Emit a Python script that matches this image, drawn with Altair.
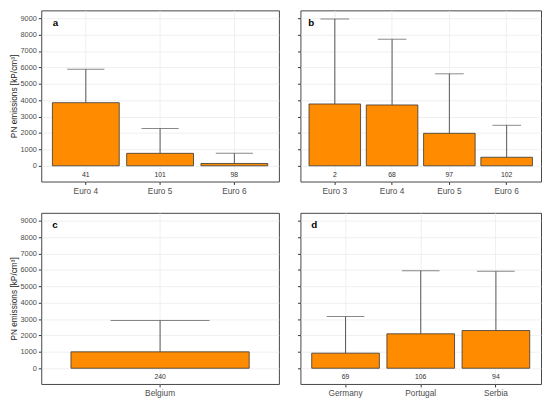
import altair as alt
import pandas as pd

# ---- data ----
a_cat = ["Euro 4", "Euro 5", "Euro 6"]
a_mean = [3850, 760, 140]
a_upper = [5890, 2280, 760]
a_n = [41, 101, 98]

b_cat = ["Euro 3", "Euro 4", "Euro 5", "Euro 6"]
b_mean = [3770, 3710, 1980, 520]
b_upper = [8960, 7720, 5610, 2470]
b_n = [2, 68, 97, 102]

c_cat = ["Belgium"]
c_mean = [1000]
c_upper = [2910]
c_n = [240]

d_cat = ["Germany", "Portugal", "Serbia"]
d_mean = [920, 2100, 2300]
d_upper = [3150, 5950, 5910]
d_n = [69, 106, 94]

y_ticks = list(range(0, 9001, 1000))
y_title = "PN emissions [kP/cm³]"

FONT = "Liberation Sans"
PI, PO = 0.1, 0.15
H = 175


def panel(cats, means, uppers, ns, letter, show_y, width, letter_x):
    df = pd.DataFrame({"cat": cats, "mean": means, "upper": uppers,
                       "n": [str(v) for v in ns]})
    step = width / (len(cats) - PI + 2 * PO)
    x = alt.X("cat:N", sort=cats,
              scale=alt.Scale(paddingInner=PI, paddingOuter=PO),
              axis=alt.Axis(title=None, labelAngle=0, labelFontSize=8.5,
                            labelColor="#4D4D4D", labelFont=FONT,
                            tickColor="#333333", tickSize=3, labelPadding=2,
                            domain=False, grid=True, gridColor="#EBEBEB",
                            gridWidth=0.8))
    common = dict(values=y_ticks, grid=True, gridColor="#EBEBEB",
                  gridWidth=0.8, domain=False, tickColor="#333333",
                  tickSize=3, labelOverlap=False)
    if show_y:
        yaxis = alt.Axis(**common, labelFontSize=7.5, labelColor="#4D4D4D",
                         labelFont=FONT, labelPadding=2, format="d",
                         title=y_title,
                         titleFont=FONT, titleFontSize=8.5,
                         titleFontWeight="normal", titleColor="#222222",
                         titlePadding=2)
    else:
        yaxis = alt.Axis(**common, labels=False, title=None)
    yscale = alt.Scale(domain=[-960, 9480], nice=False, zero=False)

    def Y(field):
        return alt.Y(field, type="quantitative", scale=yscale, axis=yaxis)

    base = alt.Chart(df).encode(x=x)
    bars = base.mark_bar(color="#FF8C00", stroke="#333333",
                         strokeWidth=0.8).encode(
        y=Y("mean"), y2=alt.Y2(datum=0))
    rule = base.mark_rule(color="#555555", strokeWidth=1).encode(
        y=Y("mean"), y2="upper:Q")
    cap = base.mark_tick(color="#555555", thickness=1,
                         size=0.5 * step).encode(y=Y("upper"))
    counts = base.mark_text(fontSize=7, font=FONT, color="#333333",
                            baseline="middle").encode(
        y=alt.Y(datum=-540, scale=yscale, axis=yaxis), text="n:N")
    lab = alt.Chart(pd.DataFrame({"t": [letter]})).mark_text(
        fontSize=10, fontWeight="bold", font=FONT, color="#000000",
        baseline="middle", align="center").encode(
        x=alt.value(letter_x), y=alt.value(13), text="t:N")
    return alt.layer(bars, rule, cap, counts, lab).properties(
        width=width, height=H)


pa = panel(a_cat, a_mean, a_upper, a_n, "a", True, 243, 14.5)
pb = panel(b_cat, b_mean, b_upper, b_n, "b", False, 246, 11)
pc = panel(c_cat, c_mean, c_upper, c_n, "c", True, 243, 14)
pd_ = panel(d_cat, d_mean, d_upper, d_n, "d", False, 246, 14)

chart = alt.vconcat(
    alt.hconcat(pa, pb, spacing=17),
    alt.hconcat(pc, pd_, spacing=17),
    spacing=17,
).properties(
    padding={"left": 0, "top": -3, "right": 0, "bottom": 0},
    background="white",
).configure_view(stroke="#444444", strokeWidth=1)

chart.save("out.html", embed_options={"renderer": "svg", "actions": False})
